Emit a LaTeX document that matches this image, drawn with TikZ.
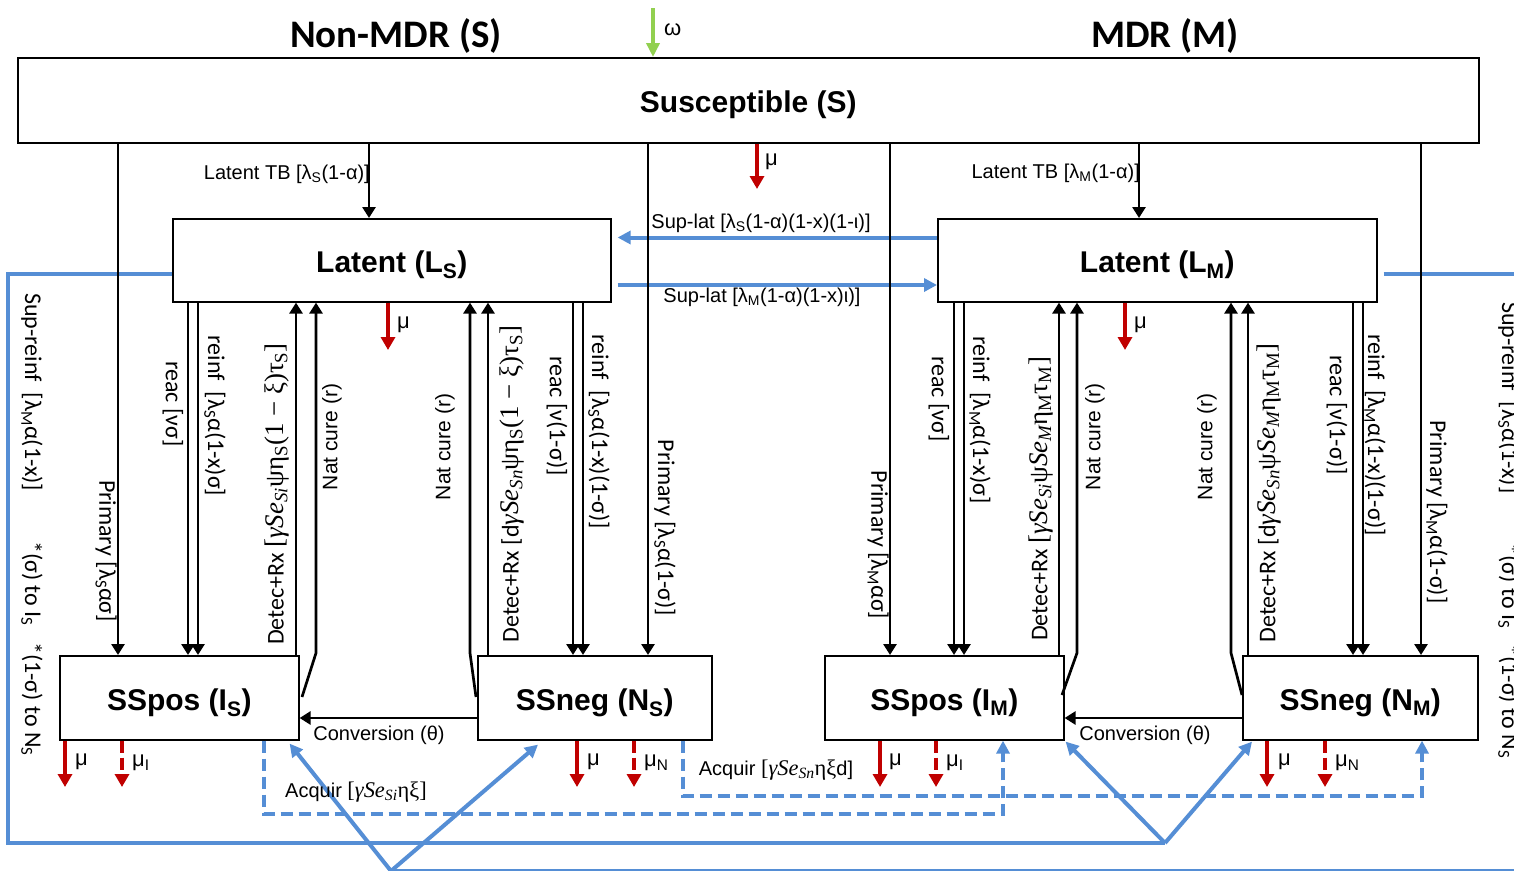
\documentclass[tikz,border=0pt]{standalone}
\usepackage{fontspec}
\setmainfont{Liberation Sans}
\newfontfamily\calib{Carlito}
\newfontfamily\mth[Scale=1.12]{Liberation Serif}
\newcommand\mitx[1]{{\mth\itshape #1}}
\newcommand\sbx[1]{\textsubscript{\mitx{#1}}}
\usetikzlibrary{arrows.meta,calc}
\definecolor{myblue}{RGB}{85,142,213}
\definecolor{myred}{RGB}{192,0,0}
\definecolor{mygreen}{RGB}{146,208,80}
\begin{document}
\begin{tikzpicture}[x=1pt,y=-1pt,
  box/.style={draw, line width=1.6pt, fill=white, anchor=north west, inner sep=0pt, text height=24.5pt, text depth=0pt, font=\fontsize{30}{36}\selectfont\bfseries},
  ttl/.style={font=\calib\bfseries\fontsize{39}{44}\selectfont, inner sep=0pt},
  lab/.style={font=\fontsize{20}{24}\selectfont, inner sep=0pt},
  mulab/.style={font=\fontsize{22}{26}\selectfont, inner sep=0pt, anchor=west},
  rlab/.style={font=\calib\fontsize{24}{28}\selectfont, inner sep=0pt},
  nlab/.style={font=\fontsize{21}{25}\selectfont, inner sep=0pt, rotate=90},
  arr/.style={line width=2.7pt, -{Triangle[width=13pt,length=11pt]}},
  redarr/.style={draw=myred, line width=4pt, -{Triangle[width=14pt,length=13pt]}},
  reddash/.style={redarr, dash pattern=on 12pt off 5pt},
  blueln/.style={draw=myblue, line width=4pt},
  bluearr/.style={blueln, -{Triangle[width=13pt,length=13pt]}},
  bluedash/.style={bluearr, dash pattern=on 12pt off 6pt},
  greenarr/.style={draw=mygreen, line width=4pt, -{Triangle[width=13pt,length=14pt]}}]
\useasboundingbox (0,0) rectangle (1514,870);
\fill[white] (0,0) rectangle (1514,870);
\clip (0,0) rectangle (1514,870);

% titles
\node[ttl] (t1) at (396,36) {Non-MDR (S)};
\node[ttl] (t2) at (1165,36) {MDR (M)};

% boxes
\node[box, minimum width=1461pt, minimum height=85pt] (S) at (17,57) {Susceptible (S)};
\node[box, minimum width=438pt, minimum height=83pt] (LS) at (172,218) {Latent (L\textsubscript{S})};
\node[box, minimum width=439pt, minimum height=83pt] (LM) at (937,218) {Latent (L\textsubscript{M})};
\node[box, minimum width=239pt, minimum height=84pt] (IS) at (59,655) {SSpos (I\textsubscript{S})};
\node[box, minimum width=234pt, minimum height=84pt] (NS) at (477,655) {SSneg (N\textsubscript{S})};
\node[box, minimum width=239pt, minimum height=84pt] (IM) at (824,655) {SSpos (I\textsubscript{M})};
\node[box, minimum width=235pt, minimum height=84pt] (NM) at (1242,655) {SSneg (N\textsubscript{M})};

% coordinates
\coordinate (om) at (653,8);
\coordinate (bl1) at (8,274);
\coordinate (bl2) at (8,843);
\coordinate (bl3) at (1165,843);
\coordinate (br1) at (1382,274);
\coordinate (br2) at (1530,274);
\coordinate (br3) at (1530,871);
\coordinate (bv) at (391,871);
\coordinate (sl1) at (0,237.5);
\coordinate (sl2) at (0,285);
\coordinate (d1) at (264,814);
\coordinate (d1c) at (1003,814);
\coordinate (d2) at (683,796);
\coordinate (d2c) at (1422,796);
\coordinate (cv) at (0,718);

% blue connectors (drawn below black)
\draw[blueln] (LS.west |- bl1) -- (bl1) -- (bl2) -- (bl3);
\draw[bluearr] (bl3) -- ($(IM.south east)+(1,1)$);
\draw[bluearr] (bl3) -- ($(NM.south west)+(10,1)$);
\draw[blueln, shorten <=6pt] (LM.east |- br1) -- (br2) -- (br3) -- (bv);
\draw[bluearr] (bv) -- ($(IS.south east)+(-10,3)$);
\draw[bluearr] (bv) -- ($(NS.south west)+(61,4)$);
\draw[bluearr, shorten >=6pt] (LM.west |- sl1) -- (LS.east |- sl1);
\draw[bluearr, shorten <=6pt] (LS.east |- sl2) -- (LM.west |- sl2);
\draw[bluedash] (IS.south -| d1) -- (d1) -- (d1c) -- (IM.south -| d1c);
\draw[bluedash] (NS.south -| d2) -- (d2) -- (d2c) -- (NM.south -| d2c);

% green inflow
\draw[greenarr] (om) -- (S.north -| om);
\node[mulab] (omlab) at (664,30) {ω};

% black vertical flows from S
\foreach \x/\tgt in {118/IS, 369/LS, 648/NS, 890/IM, 1139/LM, 1421/NM}{
  \coordinate (v\x) at (\x,0);
  \draw[arr] (S.south -| v\x) -- (\tgt.north -| v\x);
}
% double arrows L -> I/N
\foreach \x/\src/\tgt in {188/LS/IS, 198/LS/IS, 573/LS/NS, 583/LS/NS, 954/LM/IM, 964/LM/IM, 1353/LM/NM, 1363/LM/NM}{
  \coordinate (w\x) at (\x,0);
  \draw[arr] (\src.south -| w\x) -- (\tgt.north -| w\x);
}
% Detec+Rx up arrows
\foreach \x/\src/\tgt in {296/IS/LS, 488/NS/LS, 1059/IM/LM, 1248/NM/LM}{
  \coordinate (u\x) at (\x,0);
  \draw[arr] (\src.north -| u\x) -- (\tgt.south -| u\x);
}
% Nat cure arrows
\coordinate (nc1a) at (302,697); \coordinate (nc1b) at (316,653);
\coordinate (nc2a) at (476,697); \coordinate (nc2b) at (470,653);
\coordinate (nc3a) at (1062,695); \coordinate (nc3b) at (1077,653);
\coordinate (nc4a) at (1242,695); \coordinate (nc4b) at (1231,653);
\draw[arr] (nc1a) -- (nc1b) -- (LS.south -| nc1b);
\draw[arr] (nc2a) -- (nc2b) -- (LS.south -| nc2b);
\draw[arr] (nc3a) -- (nc3b) -- (LM.south -| nc3b);
\draw[arr] (nc4a) -- (nc4b) -- (LM.south -| nc4b);
% Conversion
\draw[arr] (NS.west |- cv) -- (IS.east |- cv);
\draw[arr] (NM.west |- cv) -- (IM.east |- cv);

% red death arrows
\coordinate (m0) at (757,189);
\draw[redarr] (S.south -| m0) -- (m0);
\node[mulab] at (765,162) {μ};
\coordinate (m1) at (388,350);
\draw[redarr] (LS.south -| m1) -- (m1);
\node[mulab] at (397,325) {μ};
\coordinate (m2) at (1125,350);
\draw[redarr] (LM.south -| m2) -- (m2);
\node[mulab] at (1134,325) {μ};
\foreach \x/\src in {65/IS, 577/NS, 880/IM, 1267/NM}{
  \coordinate (ms\x) at (\x,787);
  \draw[redarr] (\src.south -| ms\x) -- (ms\x);
}
\foreach \x/\src in {122/IS, 634/NS, 936/IM, 1325/NM}{
  \coordinate (md\x) at (\x,787);
  \draw[reddash] (\src.south -| md\x) -- (md\x);
}
\node[mulab] at (75,762) {μ};
\node[mulab] at (132,763) {μ\textsubscript{I}};
\node[mulab] at (587,762) {μ};
\node[mulab] at (644,763) {μ\textsubscript{N}};
\node[mulab] at (889,762) {μ};
\node[mulab] at (946,763) {μ\textsubscript{I}};
\node[mulab] at (1278,762) {μ};
\node[mulab] at (1335,763) {μ\textsubscript{N}};

% horizontal labels
\node[lab, anchor=east] at (370,174) {Latent TB [λ\textsubscript{S}(1-α)]};
\node[lab, anchor=east] at (1140,173) {Latent TB [λ\textsubscript{M}(1-α)]};
\node[lab] at (761,223) {Sup-lat [λ\textsubscript{S}(1-α)(1-x)(1-ι)]};
\node[lab] at (762,297) {Sup-lat [λ\textsubscript{M}(1-α)(1-x)ι)]};
\node[lab] at (379,735) {Conversion (θ)};
\node[lab] at (1145,735) {Conversion (θ)};
\node[lab] at (356,792) {Acquir {\mth[\mitx{γSe}\sbx{Si}ηξ]}};
\node[lab] at (776,770) {Acquir {\mth[\mitx{γSe}\sbx{Sn}ηξ}d]};

% rotated labels (left half)
\node[rlab, rotate=-90] at (106,551) {Primary [λ\textsubscript{S}ασ]};
\node[rlab, rotate=-90] at (173,404) {reac [νσ]};
\node[rlab, rotate=-90] at (215,416) {reinf\ \ [λ\textsubscript{S}α(1-x)σ]};
\node[rlab, rotate=90] at (277,494) {Detec+Rx {\mth[\mitx{γSe}\sbx{Si}ψη\textsubscript{S}(1 − ξ)τ\textsubscript{S}]}};
\node[nlab] at (332,437) {Nat cure (r)};
\node[nlab] at (445,447) {Nat cure (r)};
\node[rlab, rotate=90] at (512,484) {Detec+Rx [d{\mth\mitx{γSe}\sbx{Sn}ψη\textsubscript{S}(1 − ξ)τ\textsubscript{S}]}};
\node[rlab, rotate=-90] at (557,416) {reac [ν(1-σ)]};
\node[rlab, rotate=-90] at (599,432) {reinf\ \ [λ\textsubscript{S}α(1-x)(1-σ)]};
\node[rlab, rotate=-90] at (665,528) {Primary [λ\textsubscript{S}α(1-σ)]};
% rotated labels (right half)
\node[rlab, rotate=-90] at (878,545) {Primary [λ\textsubscript{M}ασ]};
\node[rlab, rotate=-90] at (939,399) {reac [νσ]};
\node[rlab, rotate=-90] at (980,420) {reinf\ \ [λ\textsubscript{M}α(1-x)σ]};
\node[rlab, rotate=90] at (1041,499) {Detec+Rx {\mth[\mitx{γSe}\sbx{Si}ψ\mitx{Se}\sbx{M}η\textsubscript{M}τ\textsubscript{M}]}};
\node[nlab] at (1095,437) {Nat cure (r)};
\node[nlab] at (1207,447) {Nat cure (r)};
\node[rlab, rotate=90] at (1269,493) {Detec+Rx [d{\mth\mitx{γSe}\sbx{Sn}ψ\mitx{Se}\sbx{M}η\textsubscript{M}τ\textsubscript{M}]}};
\node[rlab, rotate=-90] at (1337,415) {reac [ν(1-σ)]};
\node[rlab, rotate=-90] at (1375,435) {reinf\ \ [λ\textsubscript{M}α(1-x)(1-σ)]};
\node[rlab, rotate=-90] at (1437,512) {Primary [λ\textsubscript{M}α(1-σ)]};

% side labels
\node[rlab, rotate=-90, anchor=west] at (32,293) {Sup-reinf\ \ [λ\textsubscript{M}α(1-x)]\hspace{50pt}*(σ) to I\textsubscript{S}\hspace{16pt}*(1-σ) to N\textsubscript{S}};
\node[rlab, rotate=-90, anchor=west] at (1509,302) {Sup-reinf\ \ [λ\textsubscript{S}α(1-x)]\hspace{50pt}*(σ) to I\textsubscript{S}\hspace{16pt}*(1-σ) to N\textsubscript{S}};
\end{tikzpicture}
\end{document}
